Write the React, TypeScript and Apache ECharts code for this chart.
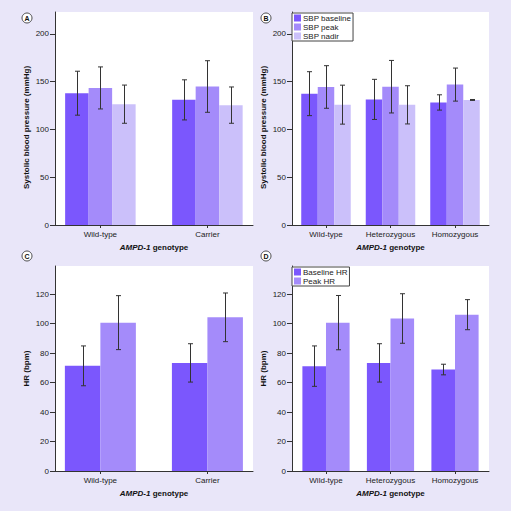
import React, { useEffect, useRef } from 'react';
import * as echarts from 'echarts';

// ---------- data ----------
const cats2 = ['Wild-type', 'Carrier'];
const cats3 = ['Wild-type', 'Heterozygous', 'Homozygous'];
const sbpTicks = [0, 50, 100, 150, 200];
const hrTicks = [0, 20, 40, 60, 80, 100, 120];
const sbpNames = ['SBP baseline', 'SBP peak', 'SBP nadir'];
const hrNames = ['Baseline HR', 'Peak HR'];

// Panel A (SBP, 2 genotype groups)
const aBaseline = [138, 131];
const aBaselineSd = [23, 21];
const aPeak = [143.5, 145];
const aPeakSd = [22, 27];
const aNadir = [126.5, 125.5];
const aNadirSd = [20, 19];

// Panel B (SBP, 3 genotype groups)
const bBaseline = [137.5, 131.5, 128.3];
const bBaselineSd = [23, 21, 8];
const bPeak = [144.5, 144.8, 147];
const bPeakSd = [22.3, 27.5, 17.3];
const bNadir = [126, 125.8, 130.9];
const bNadirSd = [20.4, 20, 0.5];

// Panel C (HR, 2 genotype groups)
const cBaseline = [71.3, 73.3];
const cBaselineSd = [13.5, 13];
const cPeak = [100.6, 104.2];
const cPeakSd = [18.3, 16.5];

// Panel D (HR, 3 genotype groups)
const dBaseline = [71.1, 73.3, 68.8];
const dBaselineSd = [13.7, 13, 3.6];
const dPeak = [100.6, 103.4, 106];
const dPeakSd = [18.4, 16.8, 10.2];

// ---------- styles ----------
const FONT = '"Liberation Sans", Arial, Helvetica, sans-serif';
const COLORS = ['#7b57fd', '#a48bfa', '#cbc0fa'];
const BG = '#e9e6f9';
const AXIS = '#333';

type Panel = {
  grid: { left: number; top: number; width: number; height: number };
  cats: string[];
  xMin: number;
  xMax: number;
  yMax: number;
  ticks: number[];
  yName: string;
  yNamePad: number;
  names: string[];
  means: number[][];
  sds: number[][];
  barWidth: number;
  letter: string;
  letterPos: [number, number];
  legend: boolean;
};

const panels: Panel[] = [
  {
    grid: { left: 55, top: 12, width: 198, height: 213 },
    cats: cats2, xMin: -0.424, xMax: 1.426, yMax: 223, ticks: sbpTicks,
    yName: 'Systolic blood pressure (mmHg)', yNamePad: 18,
    names: sbpNames, means: [aBaseline, aPeak, aNadir], sds: [aBaselineSd, aPeakSd, aNadirSd],
    barWidth: 23.5, letter: 'A', letterPos: [27, 18], legend: false,
  },
  {
    grid: { left: 292, top: 12, width: 197, height: 213 },
    cats: cats3, xMin: -0.527, xMax: 2.527, yMax: 223, ticks: sbpTicks,
    yName: 'Systolic blood pressure (mmHg)', yNamePad: 18,
    names: sbpNames, means: [bBaseline, bPeak, bNadir], sds: [bBaselineSd, bPeakSd, bNadirSd],
    barWidth: 16.5, letter: 'B', letterPos: [266, 18], legend: true,
  },
  {
    grid: { left: 55, top: 266, width: 198, height: 205 },
    cats: cats2, xMin: -0.424, xMax: 1.426, yMax: 139, ticks: hrTicks,
    yName: 'HR (bpm)', yNamePad: 0,
    names: hrNames, means: [cBaseline, cPeak], sds: [cBaselineSd, cPeakSd],
    barWidth: 35.5, letter: 'C', letterPos: [27, 256], legend: false,
  },
  {
    grid: { left: 292, top: 266, width: 197, height: 205 },
    cats: cats3, xMin: -0.527, xMax: 2.527, yMax: 139, ticks: hrTicks,
    yName: 'HR (bpm)', yNamePad: 0,
    names: hrNames, means: [dBaseline, dPeak], sds: [dBaselineSd, dPeakSd],
    barWidth: 23.6, letter: 'D', letterPos: [266, 256], legend: true,
  },
];

function buildOption() {
  const grid: any[] = [];
  const xAxis: any[] = [];
  const yAxis: any[] = [];
  const series: any[] = [];
  const legend: any[] = [];
  const graphic: any[] = [];

  panels.forEach((p, pi) => {
    grid.push({
      ...p.grid,
      show: true,
      backgroundColor: '#ffffff',
      borderWidth: 0,
      containLabel: false,
      outerBoundsMode: 'none',
    });
    const catIdx = p.cats.map((_, i) => i);
    xAxis.push({
      type: 'value',
      gridIndex: pi,
      min: p.xMin,
      max: p.xMax,
      splitLine: { show: false },
      axisLine: { show: true, onZero: false, lineStyle: { color: AXIS, width: 1 } },
      axisTick: { show: true, length: 3, customValues: catIdx, lineStyle: { color: AXIS } },
      axisLabel: {
        show: true,
        customValues: catIdx,
        formatter: (v: number) => p.cats[Math.round(v)] ?? '',
        fontSize: 8,
        color: '#222',
        margin: 5,
        fontFamily: FONT,
      },
      name: '{i|AMPD-1} genotype',
      nameLocation: 'middle',
      nameGap: 18,
      nameTextStyle: {
        fontSize: 8,
        fontWeight: 'bold',
        color: '#111',
        fontFamily: FONT,
        rich: {
          i: { fontSize: 8, fontWeight: 'bold', fontStyle: 'italic', color: '#111', fontFamily: FONT },
        },
      },
    });
    yAxis.push({
      type: 'value',
      gridIndex: pi,
      min: 0,
      max: p.yMax,
      position: 'left',
      splitLine: { show: false },
      axisLine: { show: true, onZero: false, lineStyle: { color: AXIS, width: 1 } },
      axisTick: { show: true, length: 5, customValues: p.ticks, lineStyle: { color: AXIS } },
      axisLabel: {
        show: true,
        customValues: p.ticks,
        fontSize: 8,
        color: '#222',
        margin: 6,
        fontFamily: FONT,
      },
      name: p.yName,
      nameLocation: 'middle',
      nameGap: 25,
      nameTextStyle: {
        fontSize: 8,
        fontWeight: 'bold',
        color: '#111',
        fontFamily: FONT,
        padding: [0, p.yNamePad, 0, 0],
      },
    });

    const n = p.names.length;
    p.names.forEach((name, k) => {
      series.push({
        type: 'bar',
        name,
        xAxisIndex: pi,
        yAxisIndex: pi,
        barWidth: p.barWidth,
        barGap: '0%',
        itemStyle: { color: COLORS[k] },
        data: p.means[k].map((m, i) => [i, m]),
        silent: true,
      });
    });
    p.names.forEach((_, k) => {
      const offset = (k - (n - 1) / 2) * p.barWidth;
      series.push({
        type: 'custom',
        xAxisIndex: pi,
        yAxisIndex: pi,
        z: 10,
        silent: true,
        encode: { x: 0, y: 1 },
        data: p.means[k].map((m, i) => [i, m, p.sds[k][i]]),
        renderItem: (params: any, api: any) => {
          const x = api.value(0);
          const m = api.value(1);
          const s = api.value(2);
          const top = api.coord([x, m + s]);
          const bot = api.coord([x, m - s]);
          const cx = Math.round(top[0] + offset) + 0.5;
          const cap = 2.5;
          const st = { stroke: '#333', lineWidth: 1 };
          return {
            type: 'group',
            children: [
              { type: 'line', shape: { x1: cx, y1: top[1], x2: cx, y2: bot[1] }, style: st },
              { type: 'line', shape: { x1: cx - cap, y1: top[1], x2: cx + cap, y2: top[1] }, style: st },
              { type: 'line', shape: { x1: cx - cap, y1: bot[1], x2: cx + cap, y2: bot[1] }, style: st },
            ],
          };
        },
      });
    });

    if (p.legend) {
      legend.push({
        data: p.names,
        orient: 'vertical',
        left: p.grid.left,
        top: p.grid.top + 1,
        icon: 'rect',
        itemWidth: 7,
        itemHeight: 7,
        itemGap: 1,
        padding: [1, 2, 1, 2],
        borderColor: '#444',
        borderWidth: 1,
        backgroundColor: '#ffffff',
        selectedMode: false,
        textStyle: { fontSize: 8, color: '#222', fontFamily: FONT, padding: [0, 0, 0, -3] },
      });
    }

    graphic.push({
      type: 'circle',
      shape: { cx: p.letterPos[0], cy: p.letterPos[1], r: 5 },
      style: { fill: '#ffffff', stroke: '#222', lineWidth: 0.8 },
      silent: true,
    });
    graphic.push({
      type: 'text',
      x: p.letterPos[0],
      y: p.letterPos[1] + 0.5,
      style: {
        text: p.letter,
        fill: '#111',
        font: 'bold 7px "Liberation Sans", Arial, sans-serif',
        align: 'center',
        verticalAlign: 'middle',
      },
      silent: true,
    });
  });

  return {
    animation: false,
    backgroundColor: BG,
    textStyle: { fontFamily: FONT },
    grid,
    xAxis,
    yAxis,
    series,
    legend,
    graphic: { elements: graphic },
  };
}

export default function App() {
  const ref = useRef<HTMLDivElement>(null);
  useEffect(() => {
    if (!ref.current) return;
    const chart = echarts.init(ref.current, undefined, { renderer: 'svg' });
    chart.setOption(buildOption() as any);
    return () => chart.dispose();
  }, []);
  return (
    <div
      ref={ref}
      style={{ position: 'fixed', left: 0, top: 0, width: 511, height: 511, background: BG }}
    />
  );
}
